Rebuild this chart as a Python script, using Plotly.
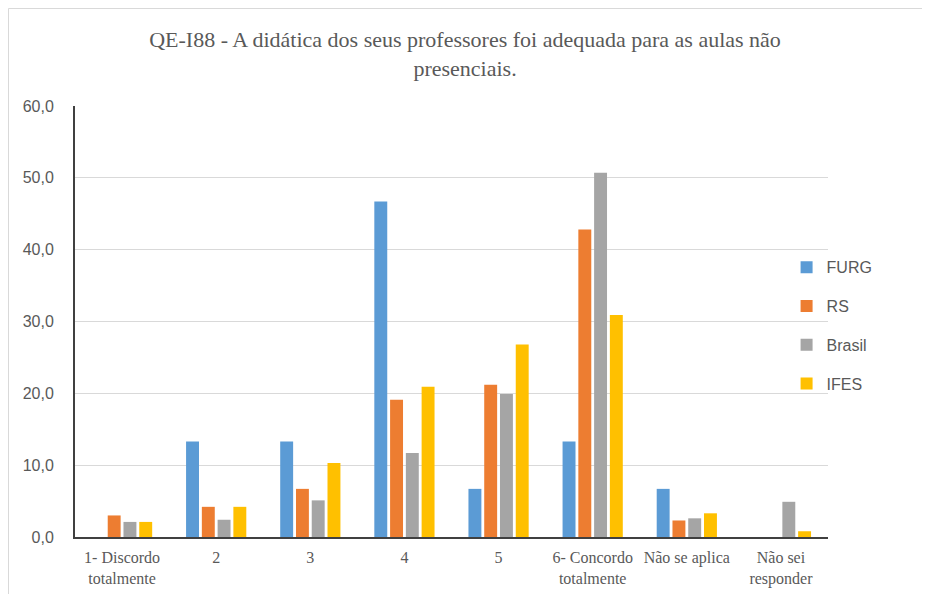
import plotly.graph_objects as go

categories = ["1- Discordo<br>totalmente", "2", "3", "4", "5",
              "6- Concordo<br>totalmente", "Não se aplica", "Não sei<br>responder"]
furg = [0.0, 13.3, 13.3, 46.7, 6.7, 13.3, 6.7, 0.0]
rs = [3.0, 4.2, 6.7, 19.1, 21.2, 42.8, 2.3, 0.0]
brasil = [2.1, 2.4, 5.1, 11.7, 19.9, 50.7, 2.6, 4.9]
ifes = [2.1, 4.2, 10.3, 20.9, 26.8, 30.9, 3.3, 0.8]

series = [("FURG", furg, "#5B9BD5"), ("RS", rs, "#ED7D31"),
          ("Brasil", brasil, "#A5A5A5"), ("IFES", ifes, "#FFC000")]

fig = go.Figure()
for name, vals, col in series:
    fig.add_trace(go.Bar(x=categories, y=vals, name=name, legendgroup=name,
                         marker=dict(color=col, line=dict(width=0))))

W, H = 922, 586
L, T = 67, 98
pw, ph = 753, 431
R, B = W - L - pw, H - T - ph

fig.update_layout(
    width=W, height=H,
    margin=dict(l=L, r=R, t=T, b=B, autoexpand=False),
    paper_bgcolor="white", plot_bgcolor="white",
    separators=",.",
    barmode="group", bargap=0.33, bargroupgap=0.18,
    title=dict(text="QE-I88 - A didática dos seus professores foi adequada para as aulas não<br>presenciais.",
               x=0.4957, xref="container", xanchor="center", y=0.933, yanchor="middle",
               font=dict(family="Liberation Serif", size=22, color="#595959")),
    legend=dict(x=0.945, xanchor="left", y=0.49, yanchor="middle",
                font=dict(family="Liberation Sans", size=16, color="#595959"),
                tracegroupgap=15, bgcolor="rgba(0,0,0,0)"),
    yaxis=dict(range=[0, 60], dtick=10, tickformat=".1f", automargin=False,
               showgrid=True, gridcolor="#d9d9d9", gridwidth=1,
               showline=True, linecolor="#404040", linewidth=2,
               zeroline=False, ticks="", ticklabelstandoff=16,
               tickfont=dict(family="Liberation Sans", size=16, color="#595959")),
    xaxis=dict(showline=True, linecolor="#404040", linewidth=2, ticks="",
               tickangle=0, ticklabelstandoff=5, automargin=False,
               tickfont=dict(family="Liberation Serif", size=16, color="#595959")),
    shapes=[dict(type="rect", xref="paper", yref="paper",
                 x0=(0.5 - L) / pw, x1=1.3, y0=-0.3, y1=(H - B - 0.5) / ph,
                 line=dict(color="#d9d9d9", width=1), fillcolor="rgba(0,0,0,0)",
                 layer="below")],
)

fig.write_html("out.html")
